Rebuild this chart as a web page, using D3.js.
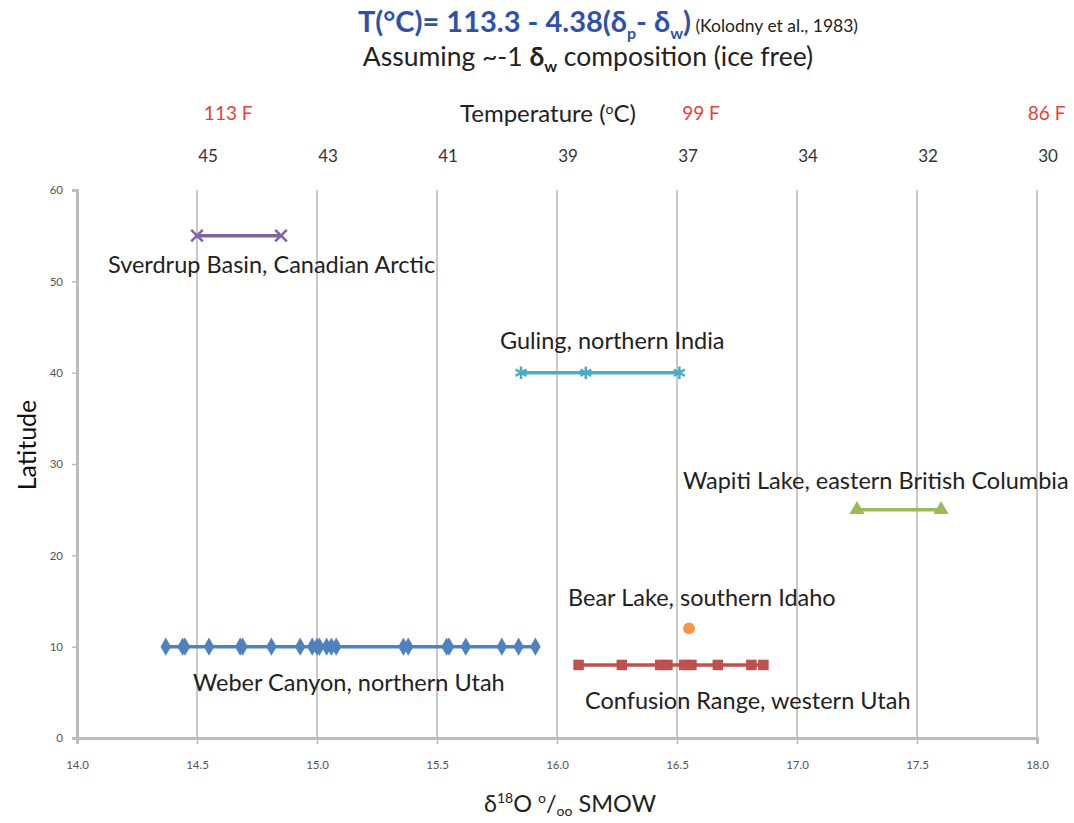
<!DOCTYPE html>
<html>
<head>
<meta charset="utf-8">
<script src="https://cdn.jsdelivr.net/npm/d3@7"></script>
<style>
  body { margin: 0; background: #fff; }
  svg { font-family: Lato, "Open Sans", sans-serif; }
</style>
</head>
<body>
<div id="chart"></div>
<script>
// x ticks (δ18O) and matching temperature labels
const xTicks = [14.0, 14.5, 15.0, 15.5, 16.0, 16.5, 17.0, 17.5, 18.0];
const yTicks = [0, 10, 20, 30, 40, 50, 60];
const tempTicks = [14.5, 15.0, 15.5, 16.0, 16.5, 17.0, 17.5, 18.0];
const tempLabels = ['45', '43', '41', '39', '37', '34', '32', '30'];
const fahrTicks = [14.63, 16.6, 18.04];
const fahrLabels = ['113 F', '99 F', '86 F'];

// series values
const weberX = [14.37, 14.44, 14.45, 14.55, 14.68, 14.69, 14.81, 14.93, 14.98, 15.0, 15.01, 15.04,
  15.06, 15.08, 15.36, 15.38, 15.54, 15.55, 15.62, 15.77, 15.84, 15.91];
const weberY = 10;
const confusionX = [16.09, 16.27, 16.43, 16.46, 16.53, 16.56, 16.67, 16.81, 16.86];
const confusionY = 8;
const bearX = [16.55];
const bearY = 12;
const wapitiX = [17.25, 17.6];
const wapitiY = 25;
const gulingX = [15.85, 16.12, 16.51];
const gulingY = 40;
const sverdrupX = [14.5, 14.85];
const sverdrupY = 55;

const series = [
  { name: 'Weber Canyon, northern Utah', xs: weberX, y: weberY, color: '#4F81BD', shape: 'diamond', line: true,
    lx: 193, ly: 691 },
  { name: 'Confusion Range, western Utah', xs: confusionX, y: confusionY, color: '#C0504D', shape: 'square', line: true,
    lx: 585, ly: 709 },
  { name: 'Bear Lake, southern Idaho', xs: bearX, y: bearY, color: '#F79646', shape: 'circle', line: false,
    lx: 568, ly: 606 },
  { name: 'Wapiti Lake, eastern British Columbia', xs: wapitiX, y: wapitiY, color: '#9BBB59', shape: 'triangle', line: true,
    lx: 683, ly: 489 },
  { name: 'Guling, northern India', xs: gulingX, y: gulingY, color: '#4BACC6', shape: 'star', line: true,
    lx: 500, ly: 349 },
  { name: 'Sverdrup Basin, Canadian Arctic', xs: sverdrupX, y: sverdrupY, color: '#8064A2', shape: 'cross', line: true,
    lx: 108, ly: 273 }
];

const W = 1074, H = 823;
const plot = { left: 77, right: 1037, top: 190, bottom: 738 };

const svg = d3.select('#chart').append('svg')
  .attr('width', W)
  .attr('height', H);

const x = d3.scaleLinear().domain([14, 18]).range([plot.left, plot.right]);
const y = d3.scaleLinear().domain([0, 60]).range([plot.bottom, plot.top]);

// Title
const blue = '#2F52A8';
const title = svg.append('text')
  .attr('x', 608)
  .attr('y', 32)
  .attr('text-anchor', 'middle');
title.append('tspan').attr('fill', blue).attr('font-weight', 'bold').attr('font-size', 29).text('T(°C)= 113.3 - 4.38(δ');
title.append('tspan').attr('fill', blue).attr('font-weight', 'bold').attr('font-size', 16).attr('dy', 7).text('p');
title.append('tspan').attr('fill', blue).attr('font-weight', 'bold').attr('font-size', 29).attr('dy', -7).text('- δ');
title.append('tspan').attr('fill', blue).attr('font-weight', 'bold').attr('font-size', 16).attr('dy', 7).text('w');
title.append('tspan').attr('fill', blue).attr('font-weight', 'bold').attr('font-size', 29).attr('dy', -7).text(')');
title.append('tspan').attr('fill', '#222').attr('font-size', 17.5).text(' (Kolodny et al., 1983)');

const sub = svg.append('text')
  .attr('x', 588)
  .attr('y', 66)
  .attr('text-anchor', 'middle')
  .attr('font-size', 26.5)
  .attr('fill', '#222');
sub.append('tspan').text('Assuming ~-1 ');
sub.append('tspan').attr('font-weight', 'bold').text('δ');
sub.append('tspan').attr('font-weight', 'bold').attr('font-size', 16).attr('dy', 6).text('w');
sub.append('tspan').attr('dy', -6).text(' composition (ice free)');

// Gridlines
svg.append('g')
  .selectAll('line')
  .data(xTicks.slice(1))
  .enter()
  .append('line')
  .attr('x1', d => x(d))
  .attr('x2', d => x(d))
  .attr('y1', plot.top)
  .attr('y2', plot.bottom)
  .attr('stroke', '#c8c8c8')
  .attr('stroke-width', 2);

// Axes
const xAxis = svg.append('g')
  .attr('transform', `translate(0,${plot.bottom})`)
  .call(d3.axisBottom(x).tickValues(xTicks).tickFormat(d3.format('.1f')).tickSize(6).tickPadding(17));
const yAxis = svg.append('g')
  .attr('transform', `translate(${plot.left},0)`)
  .call(d3.axisLeft(y).tickValues(yTicks).tickSize(5).tickPadding(9));

[xAxis, yAxis].forEach(a => {
  a.select('.domain').attr('stroke', '#bdbdbd').attr('stroke-width', 3);
  a.selectAll('.tick line').attr('stroke', '#bdbdbd').attr('stroke-width', 1.5);
  a.selectAll('.tick text').attr('fill', '#555').attr('font-size', 11.5).attr('font-family', 'Lato, sans-serif');
});

// Top temperature axis
svg.append('g')
  .selectAll('text')
  .data(tempTicks)
  .enter()
  .append('text')
  .attr('x', d => x(d) + 11)
  .attr('y', 162)
  .attr('text-anchor', 'middle')
  .attr('font-size', 17)
  .attr('fill', '#333')
  .text((d, i) => tempLabels[i]);

svg.append('g')
  .selectAll('text')
  .data(fahrTicks)
  .enter()
  .append('text')
  .attr('x', d => x(d))
  .attr('y', 120)
  .attr('text-anchor', 'middle')
  .attr('font-size', 19)
  .attr('fill', '#E8413C')
  .text((d, i) => fahrLabels[i]);

const tt = svg.append('text')
  .attr('x', 548)
  .attr('y', 122)
  .attr('text-anchor', 'middle')
  .attr('font-size', 24)
  .attr('fill', '#222');
tt.append('tspan').text('Temperature (');
tt.append('tspan').attr('font-size', 14).attr('dy', -8).text('o');
tt.append('tspan').attr('dy', 8).text('C)');

// Axis titles
svg.append('text')
  .attr('transform', 'translate(36,445) rotate(-90)')
  .attr('text-anchor', 'middle')
  .attr('font-size', 25)
  .attr('fill', '#111')
  .text('Latitude');

const xt = svg.append('text')
  .attr('x', 570)
  .attr('y', 812)
  .attr('text-anchor', 'middle')
  .attr('font-size', 23.5)
  .attr('fill', '#222');
xt.append('tspan').text('δ');
xt.append('tspan').attr('font-size', 14).attr('dy', -9).text('18');
xt.append('tspan').attr('dy', 9).text('O ');
xt.append('tspan').attr('font-size', 14).attr('dy', -9).text('o');
xt.append('tspan').attr('dy', 9).text('/');
xt.append('tspan').attr('font-size', 14).attr('dy', 4).text('oo');
xt.append('tspan').attr('dy', -4).text(' SMOW');

// Marker shapes
const symbolFor = {
  diamond: d3.symbol().type(d3.symbolDiamond).size(95),
  square: d3.symbol().type(d3.symbolSquare).size(110),
  circle: d3.symbol().type(d3.symbolCircle).size(110),
  triangle: d3.symbol().type(d3.symbolTriangle).size(100),
  star: d3.symbol().type(d3.symbolAsterisk).size(110),
  cross: d3.symbol().type(d3.symbolX).size(90)
};

const line = d3.line().x(d => x(d[0])).y(d => y(d[1]));

series.forEach(s => {
  const pts = s.xs.map(v => [v, s.y]);
  const g = svg.append('g');
  if (s.line) {
    g.append('path')
      .datum(pts)
      .attr('d', line)
      .attr('fill', 'none')
      .attr('stroke', s.color)
      .attr('stroke-width', 3.5);
  }
  const stroked = s.shape === 'star' || s.shape === 'cross';
  g.selectAll('path.m')
    .data(pts)
    .enter()
    .append('path')
    .attr('class', 'm')
    .attr('transform', d => `translate(${x(d[0])},${y(d[1])})`)
    .attr('d', symbolFor[s.shape])
    .attr('fill', stroked ? 'none' : s.color)
    .attr('stroke', s.color)
    .attr('stroke-width', stroked ? 2.5 : 0);

  svg.append('text')
    .attr('x', s.lx)
    .attr('y', s.ly)
    .attr('font-size', 23.5)
    .attr('fill', '#222')
    .text(s.name);
});
</script>
</body>
</html>
